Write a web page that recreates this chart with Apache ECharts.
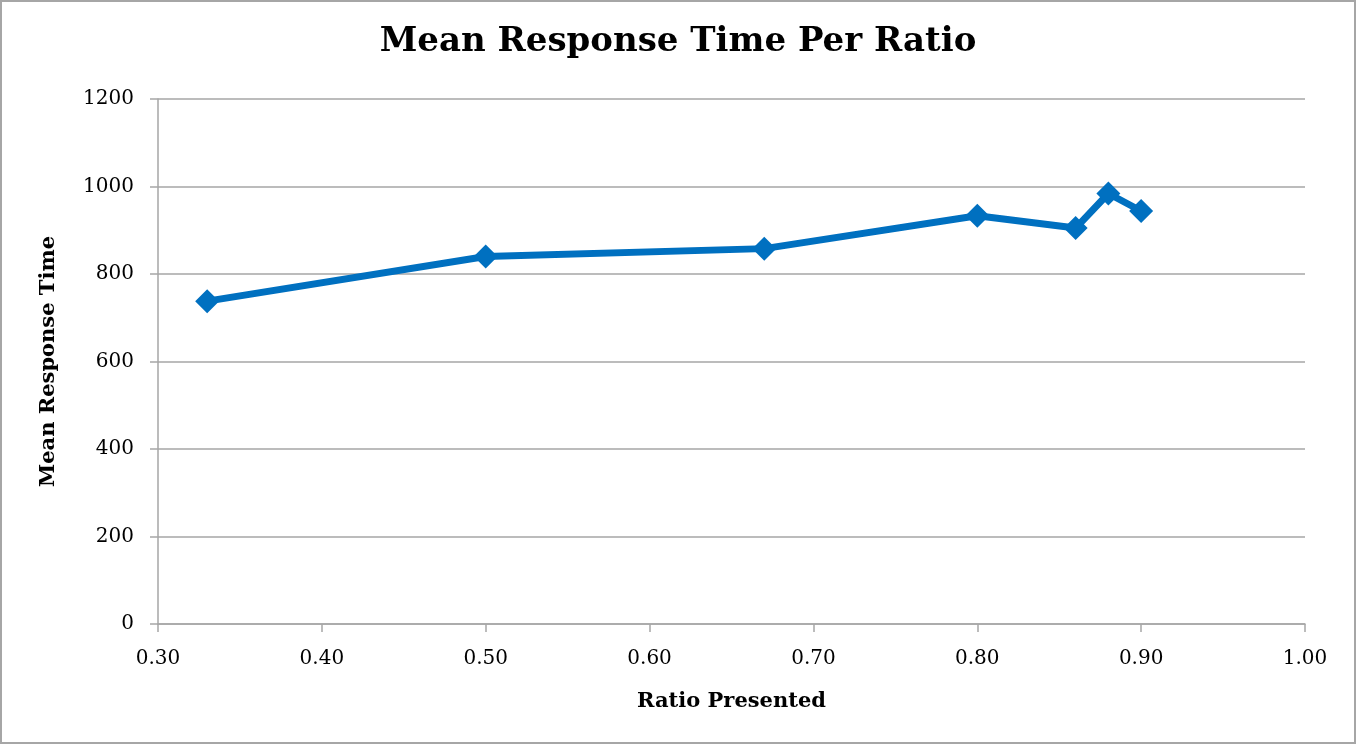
<!DOCTYPE html>
<html>
<head>
<meta charset="utf-8">
<script src="https://cdn.jsdelivr.net/npm/echarts@6/dist/echarts.min.js"></script>
<style>
  html, body { margin: 0; padding: 0; background: #fff; }
  #chart { position: absolute; left: 0; top: 0; width: 1352px; height: 740px; border: 2px solid #a6a6a6; }
</style>
</head>
<body>
<div id="chart"></div>
<script>
// 数据
const ratioArr = [0.33, 0.50, 0.67, 0.80, 0.86, 0.88, 0.90];
const timeArr = [738, 840, 858, 933, 905, 984, 944];

const showRatioChart = function(id) {
    let myChart = echarts.init(document.getElementById(id));

    let pointArr = [];
    for (let i = 0; i < ratioArr.length; i++) {
        pointArr.push([ratioArr[i], timeArr[i]]);
    }

    const fontName = '"DejaVu Serif", "Liberation Serif", serif';

    let option = {
        title: {
            text: 'Mean Response Time Per Ratio',
            left: 'center',
            top: 18,
            textStyle: {
                fontFamily: fontName,
                fontSize: 34,
                fontWeight: 'bold',
                color: '#000'
            }
        },
        grid: {
            left: 156,
            right: 49,
            top: 97,
            bottom: 118
        },
        xAxis: {
            type: 'value',
            min: 0.3,
            max: 1.0,
            interval: 0.1,
            name: 'Ratio Presented',
            nameLocation: 'middle',
            nameGap: 67,
            nameTextStyle: {
                fontFamily: fontName,
                fontSize: 21,
                fontWeight: 'bold',
                color: '#000'
            },
            axisLine: {
                show: true,
                onZero: false,
                lineStyle: { color: '#a6a6a6', width: 1.5 }
            },
            axisTick: {
                show: true,
                length: 8,
                lineStyle: { color: '#a6a6a6', width: 1.5 }
            },
            axisLabel: {
                fontFamily: fontName,
                fontSize: 20,
                color: '#000',
                margin: 25,
                formatter: function(v) { return v.toFixed(2); }
            },
            splitLine: { show: false }
        },
        yAxis: {
            type: 'value',
            min: 0,
            max: 1200,
            interval: 200,
            name: 'Mean Response Time',
            nameLocation: 'middle',
            nameGap: 99,
            nameTextStyle: {
                fontFamily: fontName,
                fontSize: 21,
                fontWeight: 'bold',
                color: '#000'
            },
            axisLine: {
                show: true,
                lineStyle: { color: '#a6a6a6', width: 1.5 }
            },
            axisTick: {
                show: true,
                length: 8,
                lineStyle: { color: '#a6a6a6', width: 1.5 }
            },
            axisLabel: {
                fontFamily: fontName,
                fontSize: 20,
                color: '#000',
                margin: 24,
                formatter: function(v) { return String(v); }
            },
            splitLine: {
                show: true,
                lineStyle: { color: '#a6a6a6', width: 1.5 }
            }
        },
        series: [{
            name: 'Mean Response Time',
            type: 'line',
            data: pointArr,
            symbol: 'diamond',
            symbolSize: 24,
            lineStyle: { color: '#0070c0', width: 7 },
            itemStyle: { color: '#0070c0' },
            animation: false
        }]
    };

    myChart.setOption(option);

    window.addEventListener("resize", function() {
        myChart.resize();
    });
};

showRatioChart('chart');
</script>
</body>
</html>
